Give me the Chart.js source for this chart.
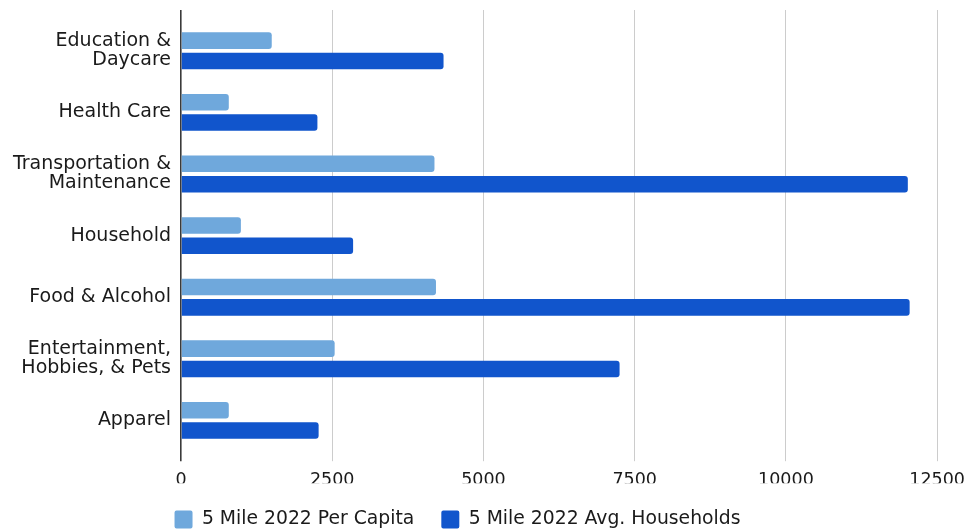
<!DOCTYPE html>
<html>
<head>
    <meta charset="utf-8">
    <title>Gastos 5 Mile 2022</title>
    <style>
        html, body { margin: 0; padding: 0; background: #fff; }
        #wrap { width: 974px; height: 531px; }
    </style>
</head>
<body>
    <div id="wrap"><canvas id="grafico"></canvas></div>

    <script src="https://cdn.jsdelivr.net/npm/chart.js@4/dist/chart.umd.min.js"></script>
    <script>
        // categorias (cada uma pode ter duas linhas)
        var categorias = [
            ['Education &', 'Daycare'],
            'Health Care',
            ['Transportation &', 'Maintenance'],
            'Household',
            'Food & Alcohol',
            ['Entertainment,', 'Hobbies, & Pets'],
            'Apparel'
        ];
        var perCapita = [1500, 790, 4190, 990, 4215, 2540, 790];
        var avgHouseholds = [4340, 2255, 12015, 2845, 12045, 7250, 2275];
        var ticksX = [0, 2500, 5000, 7500, 10000, 12500];

        var fonteY = { family: 'DejaVu Sans', size: 19, lineHeight: 1.0 };
        var fonteX = { family: 'DejaVu Sans', size: 17.5 };
        var fonteLegenda = { family: 'DejaVu Sans', size: 18.8 };
        var corTexto = '#1a1a1a';

        // puxa a legenda um pouco para a esquerda, como no original
        var moveLegenda = {
            id: 'moveLegenda',
            beforeDraw: function(chart){
                if (!chart.legend._moved) {
                    chart.legend.left -= 27;
                    chart.legend.right -= 27;
                    chart.legend._moved = true;
                }
            },
            afterUpdate: function(chart){ chart.legend._moved = false; }
        };

        var corGrade = function(c){ return c.tick && c.tick.value === 0 ? '#3a3a3a' : '#cccccc'; };
        var larguraGrade = function(c){ return c.tick && c.tick.value === 0 ? 1.6 : 1; };
        var fixaTicks = function(scale){
            scale.ticks = ticksX.map(function(v){ return { value: v }; });
        };

        var ctx = document.getElementById('grafico');
        var chartGraph = new Chart(ctx, {
            type: 'bar',
            data: {
                labels: categorias,
                datasets: [{
                    label: '5 Mile 2022 Per Capita',
                    data: perCapita,
                    backgroundColor: '#6fa8dc',
                    borderRadius: 3,
                    categoryPercentage: 0.66,
                    barPercentage: 0.815
                }, {
                    label: '5 Mile 2022 Avg. Households',
                    data: avgHouseholds,
                    backgroundColor: '#1155cc',
                    borderRadius: 3,
                    categoryPercentage: 0.66,
                    barPercentage: 0.815
                }]
            },
            options: {
                indexAxis: 'y',
                responsive: true,
                maintainAspectRatio: false,
                animation: false,
                layout: { padding: { top: 10, right: 5, left: 0, bottom: -8 } },
                scales: {
                    x: {
                        position: 'bottom',
                        min: 0,
                        max: 12500,
                        afterBuildTicks: fixaTicks,
                        afterFit: function(scale){ scale.height = 32; },
                        border: { display: false },
                        grid: { color: corGrade, lineWidth: larguraGrade, drawTicks: true, tickLength: 10 },
                        ticks: {
                            font: fonteX, color: corTexto, padding: 9, maxRotation: 0,
                            callback: function(v){ return String(v); }
                        }
                    },
                    x2: {
                        position: 'top',
                        min: 0,
                        max: 12500,
                        afterBuildTicks: fixaTicks,
                        border: { display: false },
                        grid: { color: corGrade, lineWidth: larguraGrade, drawTicks: true, tickLength: 10, drawOnChartArea: false },
                        ticks: { display: false }
                    },
                    y: {
                        border: { display: false },
                        grid: { display: false, drawTicks: false },
                        ticks: { font: fonteY, color: corTexto, padding: 10 },
                        afterFit: function(scale){ scale.width = 181; }
                    }
                },
                plugins: {
                    legend: {
                        position: 'bottom',
                        labels: {
                            font: fonteLegenda,
                            color: corTexto,
                            boxWidth: 18,
                            boxHeight: 18,
                            padding: 27,
                            useBorderRadius: true,
                            borderRadius: 2
                        }
                    },
                    tooltip: { enabled: false }
                }
            },
            plugins: [moveLegenda]
        });
    </script>
</body>
</html>
